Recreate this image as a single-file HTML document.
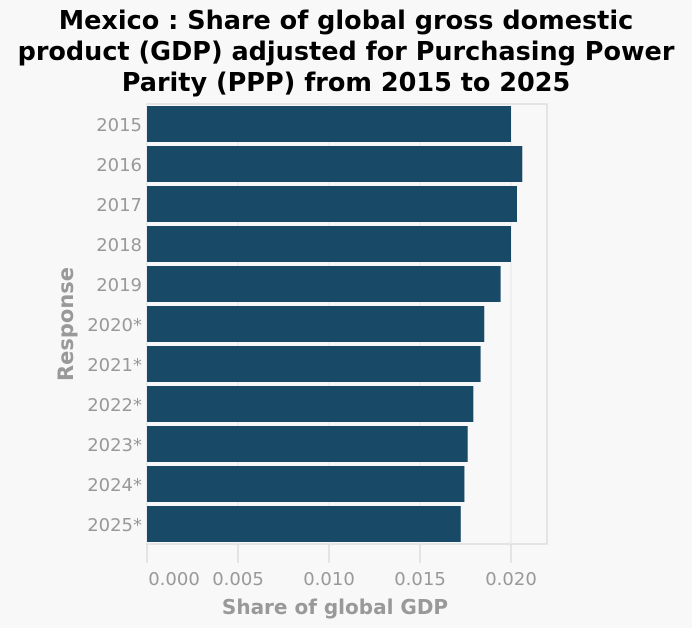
<!DOCTYPE html>
<html><head><meta charset="utf-8"><style>
body{margin:0;background:#f8f8f8;font-family:"Liberation Sans","DejaVu Sans",sans-serif;}
svg{display:block}
</style></head><body>
<svg width="692" height="628">
<rect width="692" height="628" fill="#f8f8f8"/>
<g font-family="DejaVu Sans, Liberation Sans, sans-serif" font-weight="bold" font-size="25.5" text-anchor="middle" fill="#000">
<text x="346" y="29">Mexico : Share of global gross domestic</text>
<text x="346" y="60">product (GDP) adjusted for Purchasing Power</text>
<text x="346" y="91">Parity (PPP) from 2015 to 2025</text>
</g>
<rect x="147" y="104" width="400" height="440" fill="none" stroke="#ddd" stroke-width="1.5"/>
<g id="grid"></g>
<g id="bars"></g>
<g id="axes"></g>
<text x="335" y="614" font-family="DejaVu Sans, sans-serif" font-weight="bold" font-size="20" fill="#999" text-anchor="middle">Share of global GDP</text>
<text transform="translate(73,324) rotate(-90)" font-family="DejaVu Sans, sans-serif" font-weight="bold" font-size="21" fill="#999" text-anchor="middle">Response</text>
</svg>
<script>
const categories=["2015","2016","2017","2018","2019","2020*","2021*","2022*","2023*","2024*","2025*"];
const values=[0.0200,0.02062,0.02033,0.0200,0.01943,0.01853,0.01833,0.01793,0.01762,0.01744,0.01724];
const ticks=[0,0.005,0.010,0.015,0.020];
const tickLabels=["0.000","0.005","0.010","0.015","0.020"];
const NS="http://www.w3.org/2000/svg";
const x0=147,scale=18200,top0=104,band=40,barH=36;
const xs=v=>x0+v*scale;
function mk(t,a,p){const e=document.createElementNS(NS,t);for(const k in a)e.setAttribute(k,a[k]);p.appendChild(e);return e;}
const grid=document.getElementById('grid'),bars=document.getElementById('bars'),axes=document.getElementById('axes');
ticks.forEach((t,i)=>{
 const gl=mk('line',{x1:xs(t),x2:xs(t),y1:104,y2:544,stroke:'#ececec','stroke-width':1.5},grid);
 
 
 const tk=mk('line',{x1:xs(t),x2:xs(t),y1:544,y2:563,stroke:'#ddd','stroke-width':1.5},axes);
 
 
 const tl=mk('text',{x:i==0?xs(t)+27:xs(t),y:585,'font-family':'DejaVu Sans, sans-serif','font-size':18,fill:'#999','text-anchor':'middle'},axes);
 tl.textContent=tickLabels[i];
 
 
});
categories.forEach((c,i)=>{
 const y=top0+i*band+2;
 const r=mk('rect',{x:x0,y:y,width:xs(values[i])-x0,height:barH,fill:'#184a68'},bars);
 
 
 const t=mk('text',{x:142,y:y+barH/2+7,'font-family':'DejaVu Sans, sans-serif','font-size':18,fill:'#999','text-anchor':'end'},axes);
 t.textContent=c;
 
 
});
</script>
</body></html>
